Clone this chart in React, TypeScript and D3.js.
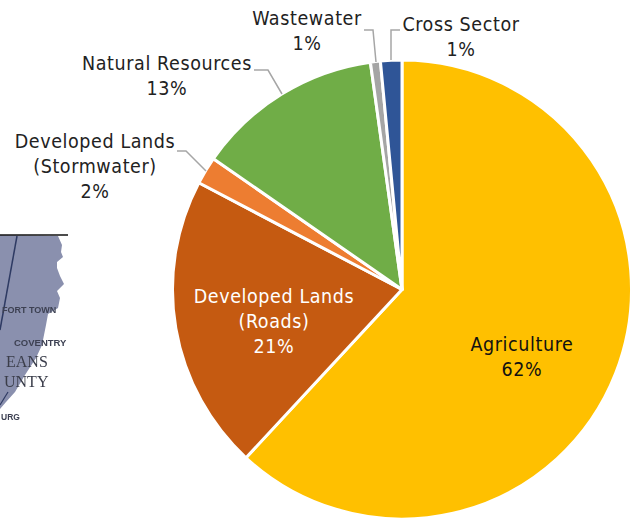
import React from "react";
import * as d3 from "d3";

const categories = ["Agriculture", "Developed Lands (Roads)", "Developed Lands (Stormwater)", "Natural Resources", "Wastewater", "Cross Sector"];
const values = [61.9, 20.8, 1.95, 13.15, 0.7, 1.5];
const colors = ["#ffc000", "#c55a11", "#ed7d31", "#70ad47", "#a5a5a5", "#2f5597"];

const labelLines = [
  { lines: ["Agriculture", "62%"], x: 522, y: 351, fill: "#111" },
  { lines: ["Developed Lands", "(Roads)", "21%"], x: 274, y: 303, fill: "#fff" },
  { lines: ["Developed Lands", "(Stormwater)", "2%"], x: 95, y: 148, fill: "#222" },
  { lines: ["Natural Resources", "13%"], x: 167, y: 70, fill: "#222" },
  { lines: ["Wastewater", "1%"], x: 307, y: 25, fill: "#222" },
  { lines: ["Cross Sector", "1%"], x: 461, y: 31, fill: "#222" },
];
const leaders: [number, number][][] = [
  [[177, 151], [186, 151], [206, 171]],
  [[254, 70], [268, 70], [282, 94]],
  [[364, 30], [373, 30], [376, 62]],
  [[400, 30], [391, 30], [391, 60]],
];

const mapOutline: [number, number][] = [
  [0, 235], [58, 236], [62, 245], [61, 252], [63, 257], [57, 262], [57, 268], [60, 276], [64, 284], [57, 291], [60, 298], [58, 308], [48, 314], [46, 325], [42, 345], [36, 358], [25, 375], [15, 392], [6, 402], [0, 409],
];
const mapBorder: [number, number][] = [[0, 235], [68, 235]];
const mapLine: [number, number][] = [[17, 236], [0, 330]];
const mapLine2: [number, number][] = [[8, 392], [0, 405]];
const mapTexts = [
  { t: "FORT TOWN", x: 2, y: 313, s: 9, w: 700, c: "#3d4152", f: "Liberation Sans" },
  { t: "COVENTRY", x: 14, y: 346, s: 9.5, w: 700, c: "#3d4152", f: "Liberation Sans" },
  { t: "EANS", x: 6, y: 367, s: 16, w: 400, c: "#3a3d4a", f: "Liberation Serif" },
  { t: "UNTY", x: 4, y: 387, s: 16, w: 400, c: "#3a3d4a", f: "Liberation Serif" },
  { t: "URG", x: 1, y: 420, s: 8.5, w: 700, c: "#3d4152", f: "Liberation Sans" },
];

const cx = 402;
const cy = 289.5;
const R = 229.5;
const FONT = "'DejaVu Sans Condensed', 'DejaVu Sans', sans-serif";

export default function App() {
  const pie = d3.pie<number>().sort(null).value((d) => d);
  const arc = d3.arc<d3.PieArcDatum<number>>().innerRadius(0).outerRadius(R);
  const arcs = pie(values);
  const line = d3.line();
  return (
    <svg width={638} height={519} style={{ position: "absolute", left: 0, top: 0, background: "#fff" }}>
      <defs>
        <filter id="soft"><feGaussianBlur stdDeviation="0.5" /></filter>
      </defs>
      <g filter="url(#soft)">
        <path d={line(mapOutline) + "Z"} fill="#8a90ae" />
        <path d={line(mapBorder)!} stroke="#111" strokeWidth={1.5} fill="none" />
        <path d={line(mapLine)!} stroke="#2e3a63" strokeWidth={1.5} fill="none" />
        <path d={line(mapLine2)!} stroke="#2e3a63" strokeWidth={1.2} fill="none" />
        {mapTexts.map((m) => (
          <text key={m.t} x={m.x} y={m.y} fontSize={m.s} fontWeight={m.w} fill={m.c} fontFamily={m.f}>{m.t}</text>
        ))}
      </g>
      <g transform={`translate(${cx},${cy})`}>
        {arcs.map((a, i) => (
          <path key={categories[i]} d={arc(a)!} fill={colors[i]} stroke="#fff" strokeWidth={3} strokeLinejoin="round" />
        ))}
      </g>
      {leaders.map((l, i) => (
        <path key={i} d={line(l)!} fill="none" stroke="#a6a6a6" strokeWidth={1.5} />
      ))}
      {labelLines.map((l) => (
        <text key={l.lines.join()} textAnchor="middle" fontFamily={FONT} fontSize={19.5} letterSpacing={0.6} fill={l.fill}>
          {l.lines.map((t, j) => (
            <tspan key={j} x={l.x} y={l.y + j * 25}>{t}</tspan>
          ))}
        </text>
      ))}
    </svg>
  );
}
